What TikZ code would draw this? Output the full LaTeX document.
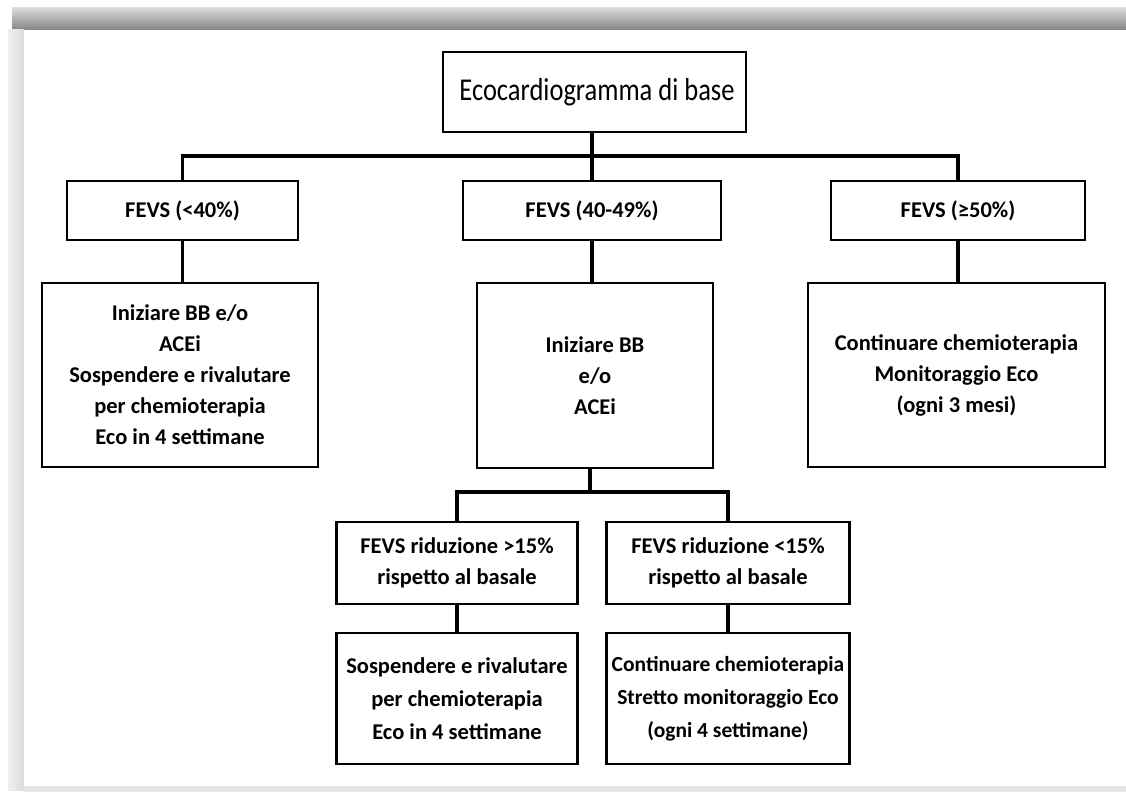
\documentclass[tikz,border=0pt]{standalone}
\usepackage{fontspec}
\setmainfont{Carlito}
\begin{document}
\begin{tikzpicture}[x=1pt,y=-1pt,
  box/.style={draw=black,line width=2.6pt,fill=white,inner sep=0pt,align=center,
    font=\bfseries\fontsize{22.5}{31}\selectfont},
  conn/.style={draw=black,line width=3.2pt}]
\useasboundingbox (0,0) rectangle (1126,794);
% page frame
\fill[white] (0,0) rectangle (1126,794);
\shade[top color=black!15,bottom color=black!48] (12,8) rectangle (1126,30);
\shade[left color=black!6,right color=black!14] (8,30) rectangle (24,790);
\fill[black!10] (24,786) rectangle (1126,792);
\fill[white] (24,30) rectangle (1126,786);
% nodes
\node[box,font=\fontsize{26.5}{31}\selectfont,minimum width=303pt,minimum height=80pt] (top) at (594.5,92) {\hspace*{5pt}\scalebox{1}[1.2]{Ecocardiogramma di base}};
\node[box,minimum width=231pt,minimum height=59pt] (f1) at (182.5,210.5) {FEVS (<40\%)};
\node[box,minimum width=258pt,minimum height=59pt] (f2) at (592,210.5) {FEVS (40-49\%)};
\node[box,minimum width=254pt,minimum height=59pt] (f3) at (958,210.5) {FEVS (≥50\%)};
\node[box,minimum width=276pt,minimum height=184pt] (b1) at (180,375) {Iniziare BB e/o\\ACEi\\Sospendere e rivalutare\\per chemioterapia\\Eco in 4 settimane};
\node[box,minimum width=236pt,minimum height=185pt] (b2) at (595,375.5) {Iniziare BB\\e/o\\ACEi};
\node[box,minimum width=297pt,minimum height=184pt] (b3) at (956.5,375) {Continuare chemioterapia\\Monitoraggio Eco\\(ogni 3 mesi)};
\node[box,minimum width=241pt,minimum height=82pt] (r1) at (457,563) {FEVS riduzione >15\%\\rispetto al basale};
\node[box,minimum width=243pt,minimum height=82pt] (r2) at (728,563) {FEVS riduzione <15\%\\rispetto al basale};
\node[box,minimum width=241pt,minimum height=131pt,font=\bfseries\fontsize{22.5}{33}\selectfont] (s1) at (457,698.5) {Sospendere e rivalutare\\per chemioterapia\\Eco in 4 settimane};
\node[box,minimum width=243pt,minimum height=131pt,font=\bfseries\fontsize{21.5}{33}\selectfont] (s2) at (728,698.5) {Continuare chemioterapia\\Stretto monitoraggio Eco\\(ogni 4 settimane)};
% connectors
\coordinate (j1) at (592,156);
\coordinate (j2) at (590,492);
\draw[conn] (top.south -| j1) -- (j1);
\draw[conn] (f1.north) |- (j1) -| (f3.north);
\draw[conn] (j1) -- (j1 |- f2.north);
\draw[conn] (f1.south) -- (f1.south |- b1.north);
\draw[conn] (f2.south) -- (f2.south |- b2.north);
\draw[conn] (f3.south) -- (f3.south |- b3.north);
\draw[conn] (b2.south -| j2) -- (j2);
\draw[conn] (r1.north) |- (j2) -| (r2.north);
\draw[conn] (r1.south) -- (s1.north);
\draw[conn] (r2.south) -- (s2.north);
\end{tikzpicture}
\end{document}
